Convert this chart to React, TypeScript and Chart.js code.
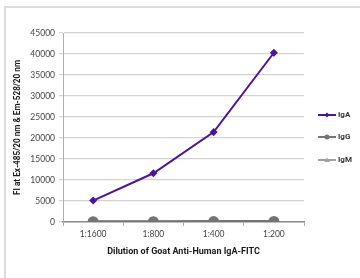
import React, { useEffect, useRef } from "react";
import { Chart, registerables } from "chart.js";

Chart.register(...registerables);

const categories = ["1:1600", "1:800", "1:400", "1:200"];
const igA = [5100, 11600, 21400, 40300];
const igG = [60, 70, 90, 120];
const igM = [40, 50, 60, 80];
const yMin = 0;
const yMax = 45000;
const yStep = 5000;
const xTitle = "Dilution of Goat Anti-Human IgA-FITC";
const yTitle = "FI at Ex-485/20 nm & Em-528/20 nm";

const FONT = "Lato, 'Open Sans', 'DejaVu Sans', sans-serif";
const BOLD = "Roboto, 'DejaVu Sans', sans-serif";

const legendPlugin = {
  id: "customLegend",
  afterDraw(chart: any) {
    const { ctx, chartArea } = chart;
    const items = chart.data.datasets;
    const ys = [115, 137, 160];
    ctx.save();
    items.forEach((ds: any, i: number) => {
      const y = ys[i];
      const x0 = chartArea.right + 14;
      const x1 = chartArea.right + 32;
      const cx = (x0 + x1) / 2;
      ctx.strokeStyle = ds.borderColor;
      ctx.lineWidth = 2;
      ctx.beginPath();
      ctx.moveTo(x0, y);
      ctx.lineTo(x1, y);
      ctx.stroke();
      ctx.fillStyle = ds.borderColor;
      ctx.beginPath();
      if (ds.pointStyle === "rectRot") {
        ctx.moveTo(cx, y - 2.5);
        ctx.lineTo(cx + 2.5, y);
        ctx.lineTo(cx, y + 2.5);
        ctx.lineTo(cx - 2.5, y);
      } else if (ds.pointStyle === "circle") {
        ctx.arc(cx, y, 2.5, 0, Math.PI * 2);
      } else {
        ctx.moveTo(cx, y - 2.5);
        ctx.lineTo(cx + 2.8, y + 2);
        ctx.lineTo(cx - 2.8, y + 2);
      }
      ctx.closePath();
      ctx.fill();
      ctx.fillStyle = "#333";
      ctx.font = `bold 8px ${BOLD}`;
      ctx.textBaseline = "middle";
      ctx.textAlign = "left";
      ctx.fillText(ds.label, x1 + 2, y);
    });
    ctx.restore();
  },
};

export default function App() {
  const ref = useRef<HTMLCanvasElement | null>(null);
  useEffect(() => {
    if (!ref.current) return;
    const chart = new Chart(ref.current, {
      type: "line",
      data: {
        labels: categories,
        datasets: [
          {
            label: "IgA",
            data: igA,
            borderColor: "#4a14a0",
            backgroundColor: "#4a14a0",
            borderWidth: 2,
            pointStyle: "rectRot",
            pointRadius: 2.6,
            tension: 0,
          },
          {
            label: "IgG",
            data: igG,
            borderColor: "#747474",
            backgroundColor: "#747474",
            borderWidth: 3,
            pointStyle: "circle",
            pointRadius: 4,
            tension: 0,
          },
          {
            label: "IgM",
            data: igM,
            borderColor: "#a0a0a0",
            backgroundColor: "#a0a0a0",
            borderWidth: 2,
            pointStyle: "triangle",
            pointRadius: 3.5,
            tension: 0,
          },
        ],
      },
      options: {
        animation: false,
        responsive: false,
        maintainAspectRatio: false,
        layout: { padding: { left: 9, top: 33, right: 56, bottom: 20 } },
        plugins: {
          legend: { display: false },
          tooltip: { enabled: false },
        },
        scales: {
          x: {
            offset: true,
            grid: {
              display: true,
              offset: true,
              drawOnChartArea: false,
              drawTicks: true,
              tickLength: 4,
              color: "#aaaaaa",
            },
            border: { display: true, color: "#8c8c8c", width: 1.5 },
            ticks: {
              color: "#444",
              font: { family: FONT, size: 8.5 },
              padding: 3,
            },
            title: {
              display: true,
              text: xTitle,
              color: "#1a1a1a",
              font: { family: BOLD, size: 9, weight: "bold" },
              padding: { top: 4, bottom: 1 },
            },
            afterFit(scale: any) {
              scale.height = 278 - 222 - 20;
            },
          },
          y: {
            min: yMin,
            max: yMax,
            ticks: {
              stepSize: yStep,
              color: "#444",
              font: { family: FONT, size: 8.5 },
              padding: 4,
              callback: (v: any) => String(v),
            },
            grid: {
              color: "#d4d4d4",
              lineWidth: 1.2,
              tickLength: 4,
              drawTicks: true,
            },
            border: { display: true, color: "#b0b0b0", width: 1 },
            title: {
              display: true,
              text: yTitle,
              color: "#1a1a1a",
              font: { family: BOLD, size: 8.2, weight: "bold" },
              padding: { top: 4, bottom: 0 },
            },
            afterFit(scale: any) {
              scale.width = 63 - 9;
            },
          },
        },
      },
      plugins: [legendPlugin],
    });
    return () => chart.destroy();
  }, []);

  return (
    <div
      style={{
        position: "fixed",
        left: 0,
        top: 0,
        width: 360,
        height: 278,
        background: "#fff",
        overflow: "hidden",
      }}
    >
      <div
        style={{
          position: "absolute",
          left: 4,
          top: 6,
          width: 400,
          height: 400,
          border: "2px solid #dcdcdc",
          boxSizing: "border-box",
        }}
      />
      <canvas
        ref={ref}
        width={360}
        height={278}
        style={{ position: "absolute", left: 0, top: 0, width: 360, height: 278 }}
      />
    </div>
  );
}
